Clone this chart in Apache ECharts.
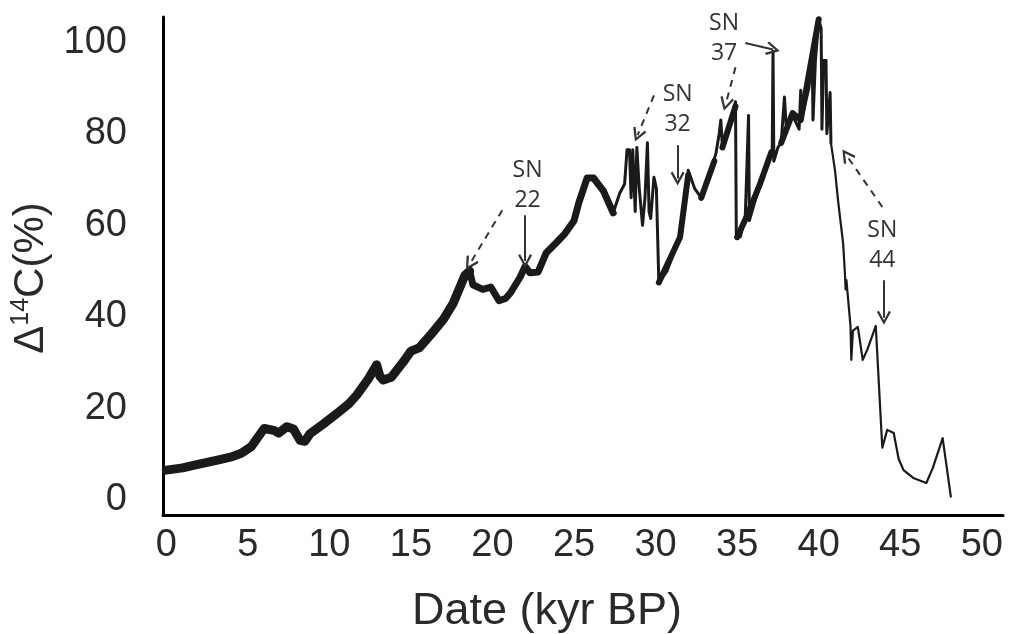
<!DOCTYPE html>
<html>
<head>
<meta charset="utf-8">
<script src="https://cdn.jsdelivr.net/npm/echarts@6/dist/echarts.min.js"></script>
<style>
  html, body { margin: 0; padding: 0; background: #fff; }
  #chart { width: 1017px; height: 634px; }
</style>
</head>
<body>
<div id="chart"></div>
<script>
// Δ14C record, [kyr BP, %]
const earlySeg = [
  [0, 6.5], [1, 7.0], [2, 7.8], [3, 8.6], [4, 9.4], [4.6, 10.2], [5.2, 11.6], [6, 15.6],
  [6.6, 15.2], [6.9, 14.6], [7.4, 16.0], [7.8, 15.5], [8.2, 13.0], [8.5, 12.8], [8.8, 14.4],
  [9.6, 16.5], [10.5, 19], [11.2, 21], [11.7, 23], [12.4, 26.5], [12.9, 29.5], [13.1, 27],
  [13.3, 26.2], [13.8, 26.8], [14.5, 30], [15, 32.5], [15.5, 33.2], [16.2, 36], [17, 39.5],
  [17.6, 43], [18.3, 49], [18.6, 50]
]
const midSeg = [
  [18.6, 50], [18.8, 47], [19.4, 46], [19.9, 46.5], [20.4, 43.5], [20.8, 44], [21.1, 45.2],
  [21.7, 48.7], [22, 51], [22.3, 49.6], [22.8, 49.8], [23.3, 54], [24, 56.5], [24.4, 58],
  [25, 61], [25.3, 65], [25.8, 70.3], [26.2, 70.3], [26.8, 67.5], [27.4, 62.7]
]
const lateTrend = [
  [30.2, 47.5], [31.5, 57.4], [32.0, 71], [32.1, null],
  [32.8, 66], [33.6, 74], [33.7, null],
  [34.1, 77], [34.9, 86], [34.95, null],
  [35.0, 57.4], [35.6, 62], [36.4, 69], [37.1, 76], [37.2, null],
  [37.7, 78], [38.4, 84.5], [38.9, 83], [40.0, 105]
]
const spikeSeg = [
  [26.8, 67.5], [27.4, 62.7], [27.8, 67], [28.1, 69], [28.25, 76.5], [28.4, 76.5], [28.5, 66],
  [28.6, 76.5], [28.75, 63], [28.85, 77], [29.0, 68], [29.2, 60], [29.35, 66], [29.5, 78],
  [29.6, 63], [29.7, 61.5], [29.9, 70.5], [30.05, 68], [30.2, 47.5], [30.7, 50], [31.5, 57.4],
  [31.8, 64], [32.0, 72], [32.4, 68], [32.8, 66], [33.3, 71], [33.7, 75.7], [33.9, 80],
  [34.0, 83], [34.1, 77], [34.4, 80], [34.9, 87], [34.95, 57.4], [35.2, 57.5], [35.5, 62],
  [35.7, 84], [35.75, 61], [36.4, 69], [36.8, 73], [37.15, 76], [37.2, 98], [37.25, 74],
  [37.5, 77], [37.7, 78], [37.9, 88], [38.0, 82], [38.4, 84], [38.8, 81], [38.9, 89.5],
  [39.0, 84], [39.4, 90], [39.6, 98], [39.65, 83], [39.8, 96], [40.0, 105], [40.15, 103],
  [40.2, 81], [40.3, 96], [40.45, 96], [40.5, 80], [40.7, 89], [40.75, 78]
]
const tailSeg = [
  [40.75, 78], [41.0, 72], [41.2, 65], [41.5, 56], [41.6, 50], [41.65, 46], [41.7, 48],
  [41.95, 38], [42.0, 30.6], [42.1, 37], [42.4, 37.8], [42.7, 30.6], [43.0, 33], [43.5, 38],
  [43.9, 11.4], [44.2, 15.3], [44.6, 14.6], [44.9, 9], [45.2, 6.5], [45.8, 4.8], [46.6, 3.7],
  [47.0, 7], [47.6, 13.5], [48.1, 0.7]
]

const xTicks = [0, 5, 10, 15, 20, 25, 30, 35, 40, 45, 50]
const yTicks = [0, 20, 40, 60, 80, 100]

// annotations
const snLabels = [
  { name: 'SN\n22', coord: [22.15, 68.6] },
  { name: 'SN\n32', coord: [31.35, 85.4] },
  { name: 'SN\n37', coord: [34.2, 100.9] },
  { name: 'SN\n44', coord: [43.9, 55.5] }
]
const solidArrows = [
  [[22.0, 62.2], [22.0, 52.2]],
  [[31.35, 77.5], [31.35, 70.2]],
  [[35.5, 99.8], [37.2, 98.4]],
  [[44.0, 48.0], [44.0, 39.8]]
]
const dashedArrows = [
  [[20.6, 63.3], [18.6, 51.5]],
  [[29.9, 88.4], [28.9, 79.7]],
  [[34.9, 94.5], [34.3, 86.5]],
  [[43.9, 64], [41.7, 75.3]]
]

const lineColor = '#1a1a1a'
const textColor = '#2a2a2a'
const labelFont = '"Liberation Sans", Arial, Helvetica, sans-serif'
const chevron = 'path://M5,0 L10,9 L8.6,10 L5,3.2 L1.4,10 L0,9 Z'

const arrowLines = [
  ...solidArrows.map(a => [{ coord: a[0], lineStyle: { type: 'solid' } }, { coord: a[1] }]),
  ...dashedArrows.map(a => [{ coord: a[0], lineStyle: { type: [7, 6] } }, { coord: a[1] }])
]

const chart = echarts.init(document.getElementById('chart'))

function lineSeries(data, width) {
  return {
    type: 'line',
    data: data,
    showSymbol: false,
    connectNulls: false,
    lineStyle: { color: lineColor, width: width, join: 'round', cap: 'round' },
    itemStyle: { color: lineColor },
    silent: true,
    z: 2
  }
}

chart.setOption({
  animation: false,
  backgroundColor: '#fff',
  grid: { left: 163, right: 14, top: 17, bottom: 119, outerBoundsMode: 'none', containLabel: false },
  xAxis: {
    type: 'value',
    min: -0.2,
    max: 51.3,
    name: 'Date (kyr BP)',
    nameLocation: 'middle',
    nameGap: 74,
    nameTextStyle: { fontFamily: labelFont, fontSize: 45, color: textColor, padding: [0, 72, 0, 0] },
    axisLine: { show: true, onZero: false, lineStyle: { color: '#000', width: 3 } },
    axisTick: { show: false },
    splitLine: { show: false },
    axisLabel: {
      customValues: xTicks,
      margin: 12,
      fontFamily: labelFont,
      fontSize: 38,
      color: textColor
    }
  },
  yAxis: {
    type: 'value',
    min: -3.3,
    max: 105.5,
    name: '{a|Δ}{s|14}{a|C(%)}',
    nameLocation: 'middle',
    nameGap: 98,
    nameRotate: 90,
    nameTextStyle: {
      color: textColor,
      padding: [0, 24, 0, 0],
      rich: {
        a: { fontFamily: labelFont, fontSize: 42, color: textColor, lineHeight: 46 },
        s: { fontFamily: labelFont, fontSize: 25, color: textColor, lineHeight: 46, verticalAlign: 'top', padding: [0, 0, 15, 0] }
      }
    },
    axisLine: { show: true, onZero: false, lineStyle: { color: '#000', width: 3 } },
    axisTick: { show: false },
    splitLine: { show: false },
    axisLabel: {
      customValues: yTicks,
      margin: 36,
      fontFamily: labelFont,
      fontSize: 38,
      color: textColor
    }
  },
  series: [
    lineSeries(earlySeg, 9),
    lineSeries(midSeg, 7),
    lineSeries(lateTrend, 6),
    lineSeries(spikeSeg, 3),
    Object.assign(lineSeries(tailSeg, 2.2), {
      markLine: {
        silent: true,
        symbol: ['none', chevron],
        symbolSize: [14, 14],
        precision: 3,
        label: { show: false },
        lineStyle: { color: '#333', width: 2 },
        data: arrowLines
      },
      markPoint: {
        silent: true,
        symbol: 'rect',
        symbolSize: 1,
        itemStyle: { color: 'rgba(0,0,0,0)' },
        label: {
          show: true,
          position: 'inside',
          formatter: '{b}',
          fontFamily: '"Open Sans", "Noto Sans", sans-serif',
          fontSize: 23,
          lineHeight: 30,
          color: '#333'
        },
        data: snLabels
      }
    })
  ]
})
</script>
</body>
</html>
